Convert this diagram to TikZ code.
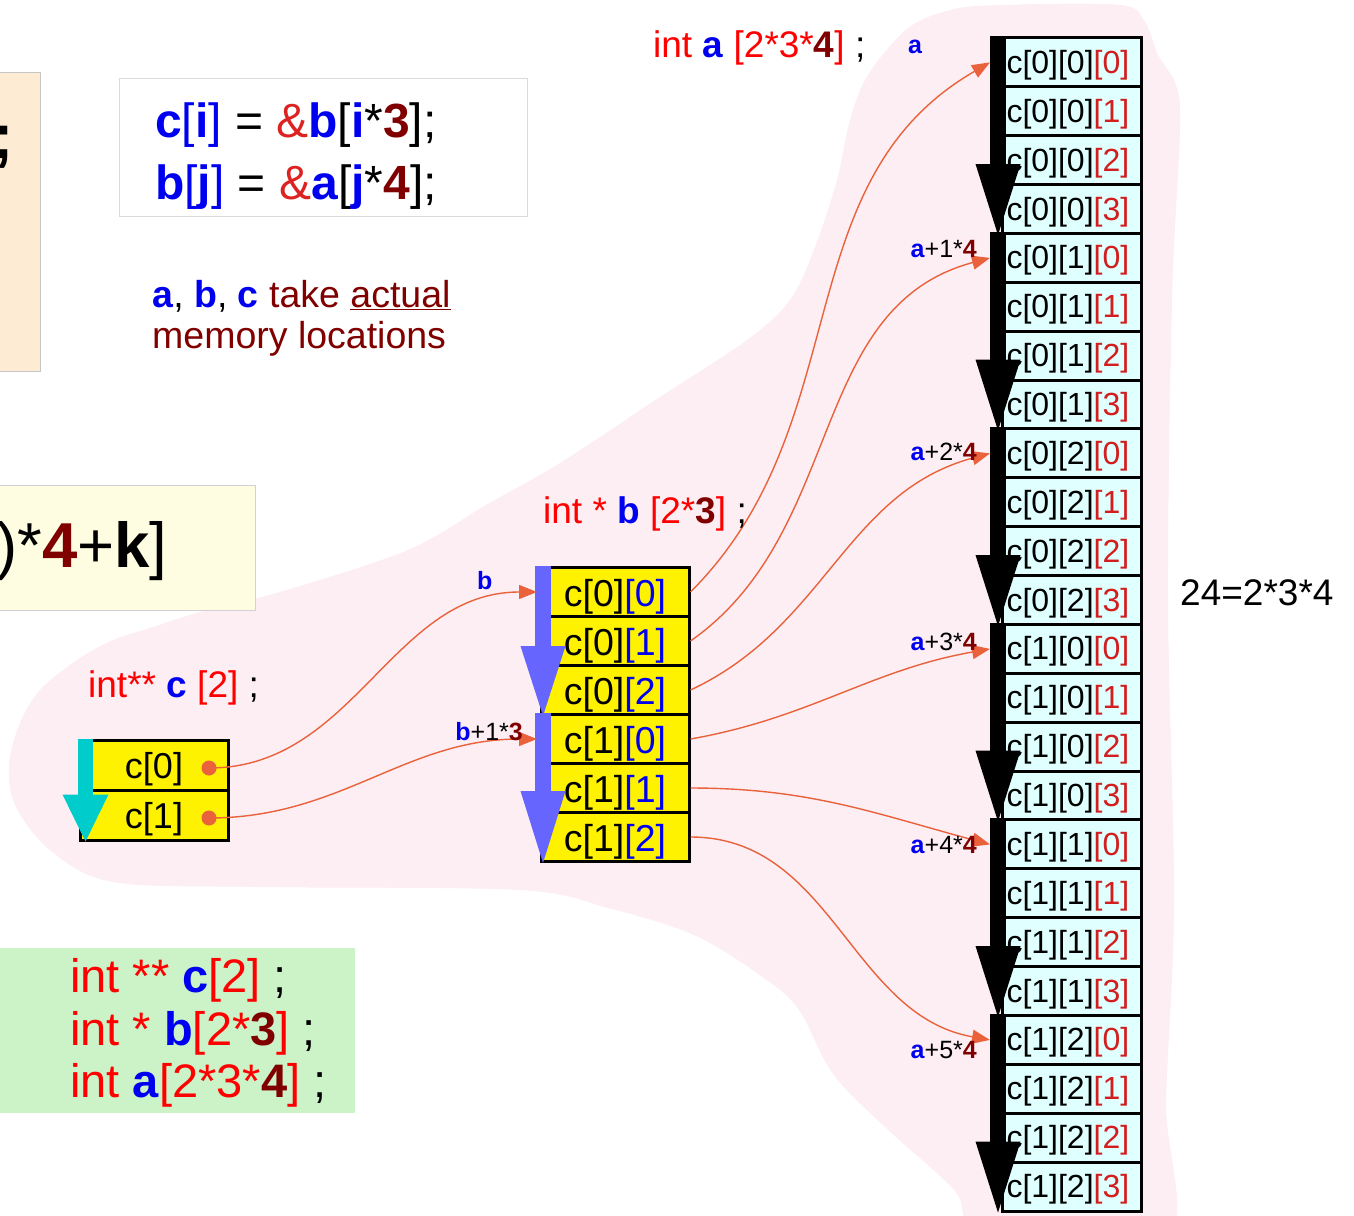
\documentclass[tikz,border=0pt]{standalone}
\usepackage{fontspec}
\setmainfont{Liberation Sans}
\usetikzlibrary{arrows.meta}

\definecolor{blobpink}{RGB}{253,238,243}
\definecolor{peach}{RGB}{253,235,211}
\definecolor{paleyel}{RGB}{255,253,225}
\definecolor{palegreen}{RGB}{204,242,200}
\definecolor{cellcyan}{RGB}{224,255,255}
\definecolor{cyanarr}{RGB}{0,204,204}
\definecolor{bluearr}{RGB}{102,102,255}
\definecolor{orng}{RGB}{233,98,60}
\definecolor{kwred}{RGB}{255,0,0}
\definecolor{ampred}{RGB}{221,34,34}
\definecolor{idxred}{RGB}{210,30,30}
\definecolor{dimred}{RGB}{128,0,0}
\definecolor{varblue}{RGB}{0,0,240}

\newcommand{\fsz}[1]{\fontsize{#1}{#1}\selectfont}
\newcommand{\vname}[1]{\textcolor{varblue}{\textbf{#1}}}
\newcommand{\dimn}[1]{\textcolor{dimred}{\textbf{#1}}}
\newcommand{\kwr}[1]{\textcolor{kwred}{#1}}
\newcommand{\aidx}[1]{\textcolor{idxred}{#1}}
\newcommand{\bidx}[1]{\textcolor{varblue}{#1}}

\begin{document}
\begin{tikzpicture}[x=1pt, y=-1pt,
  txt/.style={anchor=base west, inner sep=0pt},
  txtr/.style={anchor=base east, inner sep=0pt},
  acell/.style={draw, line width=3pt, fill=cellcyan, minimum width=139pt, minimum height=48.875pt, text width=131pt, text height=25pt, text depth=3pt, inner xsep=4pt, inner ysep=0pt, align=left, font=\fsz{32}},
  bcell/.style={draw, line width=3pt, fill=yellow, minimum width=148pt, minimum height=49pt, text height=32pt, text depth=3pt, inner sep=0pt, font=\fsz{37.5}},
  ccell/.style={draw, line width=3pt, fill=yellow, minimum width=148pt, minimum height=50pt, text height=29pt, text depth=3pt, inner sep=0pt, font=\fsz{36}},
  ptr/.style={draw=orng, line width=1.4pt, -{Triangle[length=18pt,width=14pt]}},
  dot/.style={circle, fill=orng, minimum size=15pt, inner sep=0pt},
  blkarr/.style={line width=16pt, -{Triangle[length=71pt,width=45pt,line width=0pt]}},
  lbl/.style={txtr, font=\fsz{25}}]
\useasboundingbox (0,0) rectangle (1354,1215);
\fill[white] (0,0) rectangle (1354,1215);

% pink area behind the three arrays
\fill[blobpink] plot[smooth cycle, tension=0.55] coordinates {
  (9,764) (20,723) (40,690) (77,660) (113,640) (150,628) (200,612) (280,592)
  (408,550) (486,505) (560,463) (660,397) (747,340) (790,300) (815,247)
  (837,180) (850,120) (868,75) (907,29) (950,10) (1000,5) (1120,5) (1145,22)
  (1158,55) (1176,85) (1180,130) (1172,300) (1168,600) (1174,900) (1166,1100)
  (1165,1240) (985,1240) (955,1191) (885,1127) (833,1074) (799,1010) (764,978)
  (694,935) (608,908) (520,890) (260,887) (113,882) (50,850) (15,805)};

% side boxes
\draw[draw=black!22, fill=peach] (-5,72) rectangle (40,371);
\node[txt, font=\fsz{64}\bfseries] (semi) at (-8,158) {;};
\draw[draw=black!14, fill=white] (119,78) rectangle (527,216);
\node[txt, font=\fsz{48}] (code1) at (155,137) {\vname{c}\textcolor{varblue}{[}\vname{i}\textcolor{varblue}{]} = \textcolor{ampred}{\&}\vname{b}[\vname{i}*\dimn{3}];};
\node[txt, font=\fsz{48}] (code2) at (155,199) {\vname{b}\textcolor{varblue}{[}\vname{j}\textcolor{varblue}{]} = \textcolor{ampred}{\&}\vname{a}[\vname{j}*\dimn{4}];};
\node[txt, font=\fsz{37.5}, text=dimred] (note1) at (152,307) {\vname{a}\textcolor{black}{,} \vname{b}\textcolor{black}{,} \vname{c} take \underline{actual}};
\node[txt, font=\fsz{37.5}, text=dimred] (note2) at (152,348) {memory locations};
\draw[draw=black!18, fill=paleyel] (-5,485) rectangle (255,610);
\node[txt, font=\fsz{63.5}] (formula) at (-4,567) {)*\dimn{4}+\textbf{k}]};
\fill[palegreen] (-5,948) rectangle (355,1113);
\node[txt, font=\fsz{47}] (decl1) at (70,992) {\kwr{int ** }\vname{c}\kwr{[2]} ;};
\node[txt, font=\fsz{47}] (decl2) at (70,1045) {\kwr{int * }\vname{b}\kwr{[2*}\dimn{3}\kwr{]} ;};
\node[txt, font=\fsz{47}] (decl3) at (70,1097) {\kwr{int }\vname{a}\kwr{[2*3*}\dimn{4}\kwr{]} ;};

% array a
\node[acell] (a0) at (1072,62.4) {c[0][0]\aidx{[0]}};
\node[acell] (a1) at (1072,111.3) {c[0][0]\aidx{[1]}};
\node[acell] (a2) at (1072,160.2) {c[0][0]\aidx{[2]}};
\node[acell] (a3) at (1072,209.1) {c[0][0]\aidx{[3]}};
\node[acell] (a4) at (1072,257.9) {c[0][1]\aidx{[0]}};
\node[acell] (a5) at (1072,306.8) {c[0][1]\aidx{[1]}};
\node[acell] (a6) at (1072,355.7) {c[0][1]\aidx{[2]}};
\node[acell] (a7) at (1072,404.6) {c[0][1]\aidx{[3]}};
\node[acell] (a8) at (1072,453.4) {c[0][2]\aidx{[0]}};
\node[acell] (a9) at (1072,502.3) {c[0][2]\aidx{[1]}};
\node[acell] (a10) at (1072,551.2) {c[0][2]\aidx{[2]}};
\node[acell] (a11) at (1072,600.1) {c[0][2]\aidx{[3]}};
\node[acell] (a12) at (1072,648.9) {c[1][0]\aidx{[0]}};
\node[acell] (a13) at (1072,697.8) {c[1][0]\aidx{[1]}};
\node[acell] (a14) at (1072,746.7) {c[1][0]\aidx{[2]}};
\node[acell] (a15) at (1072,795.6) {c[1][0]\aidx{[3]}};
\node[acell] (a16) at (1072,844.4) {c[1][1]\aidx{[0]}};
\node[acell] (a17) at (1072,893.3) {c[1][1]\aidx{[1]}};
\node[acell] (a18) at (1072,942.2) {c[1][1]\aidx{[2]}};
\node[acell] (a19) at (1072,991.1) {c[1][1]\aidx{[3]}};
\node[acell] (a20) at (1072,1039.9) {c[1][2]\aidx{[0]}};
\node[acell] (a21) at (1072,1088.8) {c[1][2]\aidx{[1]}};
\node[acell] (a22) at (1072,1137.7) {c[1][2]\aidx{[2]}};
\node[acell] (a23) at (1072,1186.6) {c[1][2]\aidx{[3]}};
\draw[blkarr] ([xshift=-3pt]a0.north west) -- ([xshift=-3pt]a3.south west);
\draw[blkarr] ([xshift=-3pt]a4.north west) -- ([xshift=-3pt]a7.south west);
\draw[blkarr] ([xshift=-3pt]a8.north west) -- ([xshift=-3pt]a11.south west);
\draw[blkarr] ([xshift=-3pt]a12.north west) -- ([xshift=-3pt]a15.south west);
\draw[blkarr] ([xshift=-3pt]a16.north west) -- ([xshift=-3pt]a19.south west);
\draw[blkarr] ([xshift=-3pt]a20.north west) -- ([xshift=-3pt]a23.south west);

% array b
\node[bcell] (b0) at (615,592) {c[0]\bidx{[0]}};
\node[bcell] (b1) at (615,641) {c[0]\bidx{[1]}};
\node[bcell] (b2) at (615,690) {c[0]\bidx{[2]}};
\node[bcell] (b3) at (615,739) {c[1]\bidx{[0]}};
\node[bcell] (b4) at (615,788) {c[1]\bidx{[1]}};
\node[bcell] (b5) at (615,837) {c[1]\bidx{[2]}};
\draw[draw=bluearr, line width=16pt, -{Triangle[length=70pt,width=45pt,line width=0pt]}] ([xshift=3.5pt]b0.north west) -- ([xshift=3.5pt]b2.south west);
\draw[draw=bluearr, line width=16pt, -{Triangle[length=72pt,width=45pt,line width=0pt]}] ([xshift=3.5pt]b3.north west) -- ([xshift=3.5pt]b5.south west);

% array c
\node[ccell] (c0) at (154,765) {c[0]};
\node[ccell] (c1) at (154,815) {c[1]};
\draw[draw=cyanarr, line width=15pt, -{Triangle[length=47pt,width=46pt,line width=0pt]}] ([xshift=7pt]c0.north west) -- ([xshift=7pt]c1.south west);

% pointers
\draw[ptr] (209,768) to[out=0,in=180] ([xshift=-2.5pt]b0.west);
\draw[ptr] (209,818) to[out=0,in=180] ([xshift=-2.5pt]b3.west);
\node[dot] (d0) at (209,768) {};
\node[dot] (d1) at (209,818) {};
\draw[ptr] (b0.east) to[out=45,in=210] ([xshift=-11pt]a0.west);
\draw[ptr] (b1.east) to[out=35,in=195] ([xshift=-11pt]a4.west);
\draw[ptr] (b2.east) to[out=25,in=195] ([xshift=-11pt]a8.west);
\draw[ptr] (b3.east) to[out=10,in=190] ([xshift=-11pt]a12.west);
\draw[ptr] (b4.east) to[out=0,in=165] ([xshift=-11pt]a16.west);
\draw[ptr] (b5.east) to[out=0,in=170] ([xshift=-11pt]a20.west);

% labels
\node[txt, font=\fsz{37}] (adecl) at (653,57) {\kwr{int }\vname{a} \kwr{[2*3*}\dimn{4}\kwr{]} ;};
\node[txt, font=\fsz{37}] (bdecl) at (543,523) {\kwr{int * }\vname{b} \kwr{[2*}\dimn{3}\kwr{]} ;};
\node[txt, font=\fsz{37}] (cdecl) at (88,697) {\kwr{int** }\vname{c} \kwr{[2]} ;};
\node[txt, font=\fsz{37}] (total) at (1180,605) {24=2*3*4};
\node[txt, font=\fsz{25}] (la0) at (908,53) {\vname{a}};
\node[lbl] (la1) at (977,257) {\vname{a}+1*\dimn{4}};
\node[lbl] (la2) at (977,460) {\vname{a}+2*\dimn{4}};
\node[lbl] (la3) at (977,650) {\vname{a}+3*\dimn{4}};
\node[lbl] (la4) at (977,853) {\vname{a}+4*\dimn{4}};
\node[lbl] (la5) at (977,1058) {\vname{a}+5*\dimn{4}};
\node[txt, font=\fsz{25}] (lb0) at (477,589) {\vname{b}};
\node[lbl] (lb3) at (523,740) {\vname{b}+1*\dimn{3}};
\end{tikzpicture}
\end{document}
